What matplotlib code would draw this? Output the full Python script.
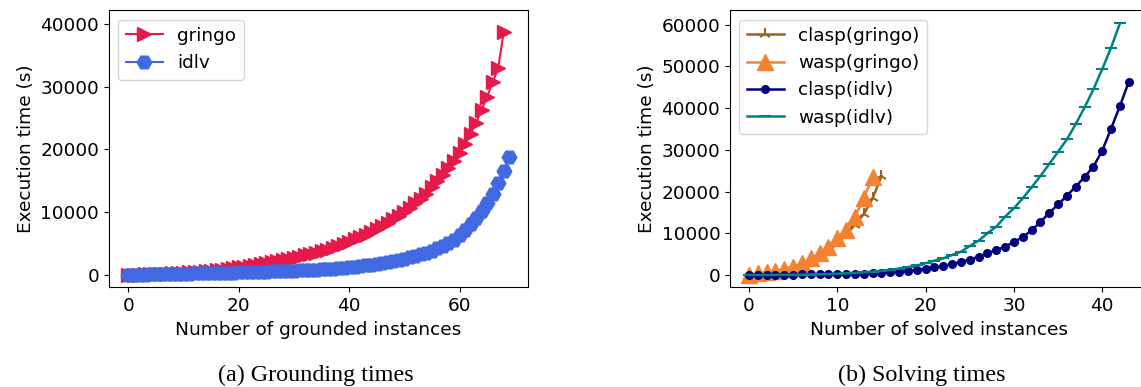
import matplotlib
matplotlib.use("Agg")
import matplotlib.pyplot as plt

# grounding times (s), one value per grounded instance (sorted)
gringo_time = [20, 50, 80, 110, 140, 170, 200, 240, 280, 320,
               370, 420, 480, 540, 610, 680, 760, 850, 950, 1070,
               1200, 1320, 1450, 1590, 1740, 1900, 2070, 2250, 2440, 2560,
               2700, 2900, 3110, 3330, 3560, 3800, 4060, 4340, 4640, 4960,
               5300, 5660, 6040, 6450, 6890, 7350, 7840, 8360, 8910, 9470,
               10050, 10700, 11400, 12150, 12950, 14000, 14950, 15950, 17000, 18150,
               19400, 20900, 22500, 24300, 26300, 28400, 30700, 33000, 38700]
idlv_time = [10, 30, 50, 70, 90, 110, 130, 150, 170, 190,
             210, 230, 250, 270, 290, 310, 330, 350, 370, 390,
             410, 430, 455, 480, 505, 530, 560, 590, 620, 650,
             690, 730, 770, 810, 860, 910, 960, 1020, 1090, 1160,
             1240, 1330, 1420, 1520, 1630, 1750, 1880, 2030, 2190, 2370,
             2570, 2790, 3030, 3290, 3580, 3900, 4260, 4650, 5100, 5650,
             6300, 7150, 8050, 9050, 10150, 11450, 12900, 14700, 16600, 18800]

# solving times (s), one value per solved instance (sorted)
clasp_gringo = [0, 300, 600, 900, 1300, 1800, 2400, 3300, 4400, 5800,
                7600, 9800, 12000, 14600, 18400, 23700]
wasp_gringo = [0, 400, 700, 1000, 1500, 2000, 2800, 4000, 5200, 6800,
               8900, 10900, 14000, 18400, 23500]
clasp_idlv = [20, 40, 60, 80, 100, 120, 140, 160, 180, 200,
              230, 260, 300, 350, 420, 520, 650, 820, 1020, 1250,
              1520, 1820, 2180, 2600, 3100, 3700, 4400, 5200, 6000, 6800,
              7900, 9100, 10700, 12700, 14900, 16900, 19000, 21200, 23500, 26000,
              29800, 35100, 40500, 46300]
wasp_idlv = [0, 10, 20, 30, 40, 60, 90, 120, 170, 230,
             300, 390, 500, 640, 800, 1000, 1250, 1550, 1900, 2300,
             2800, 3440, 4000, 4790, 5590, 6950, 8230, 10000, 11580, 13980,
             16000, 18390, 21020, 23730, 26610, 29550, 32520, 36190, 40190, 44500,
             49380, 54480, 60330]

plt.rcParams['font.size'] = 13.3

fig = plt.figure(figsize=(11.41, 3.87), dpi=100)

# (a) grounding
ax1 = fig.add_axes([0.0955, 0.2576, 0.367, 0.7158])
ax1.plot(range(len(gringo_time)), gringo_time, color='#e6194b', marker='>',
         markersize=9.5, linewidth=1.5, label='gringo')
ax1.plot(range(len(idlv_time)), idlv_time, color='royalblue', marker='H',
         markersize=10.5, linewidth=1.5, label='idlv')
ax1.set_xlim(-3.5, 72.35)
ax1.set_ylim(-1960, 42180)
ax1.set_xticks([0, 20, 40, 60])
ax1.set_yticks([0, 10000, 20000, 30000, 40000])
ax1.set_xlabel('Number of grounded instances')
ax1.set_ylabel('Execution time (s)')
ax1.legend(loc='upper left')

# (b) solving
ax2 = fig.add_axes([0.6398, 0.2576, 0.3661, 0.7158])
ax2.plot(range(len(clasp_gringo)), clasp_gringo, color='#9a6324', marker='2',
         markersize=9, markeredgewidth=1.5, linewidth=1.8, label='clasp(gringo)')
ax2.plot(range(len(wasp_gringo)), wasp_gringo, color='#f58231', marker='^',
         markersize=11, linewidth=1.8, label='wasp(gringo)')
ax2.plot(range(len(clasp_idlv)), clasp_idlv, color='navy', marker='.',
         markersize=11, linewidth=1.8, label='clasp(idlv)')
ax2.plot(range(len(wasp_idlv)), wasp_idlv, color='teal', marker='_',
         markersize=8, markeredgewidth=1.5, linewidth=1.8, label='wasp(idlv)')
ax2.set_xlim(-2.15, 45.15)
ax2.set_ylim(-2950, 63450)
ax2.set_xticks([0, 10, 20, 30, 40])
ax2.set_yticks([0, 10000, 20000, 30000, 40000, 50000, 60000])
ax2.set_xlabel('Number of solved instances')
ax2.set_ylabel('Execution time (s)')
ax2.legend(loc='upper left')

fig.text(316 / 1141, 1 - 375 / 387, '(a) Grounding times', ha='center', va='center',
         fontsize=17.4, family='Liberation Serif')
fig.text(922 / 1141, 1 - 375 / 387, '(b) Solving times', ha='center', va='center',
         fontsize=17.4, family='Liberation Serif')

fig.savefig('out.png', dpi=100)
